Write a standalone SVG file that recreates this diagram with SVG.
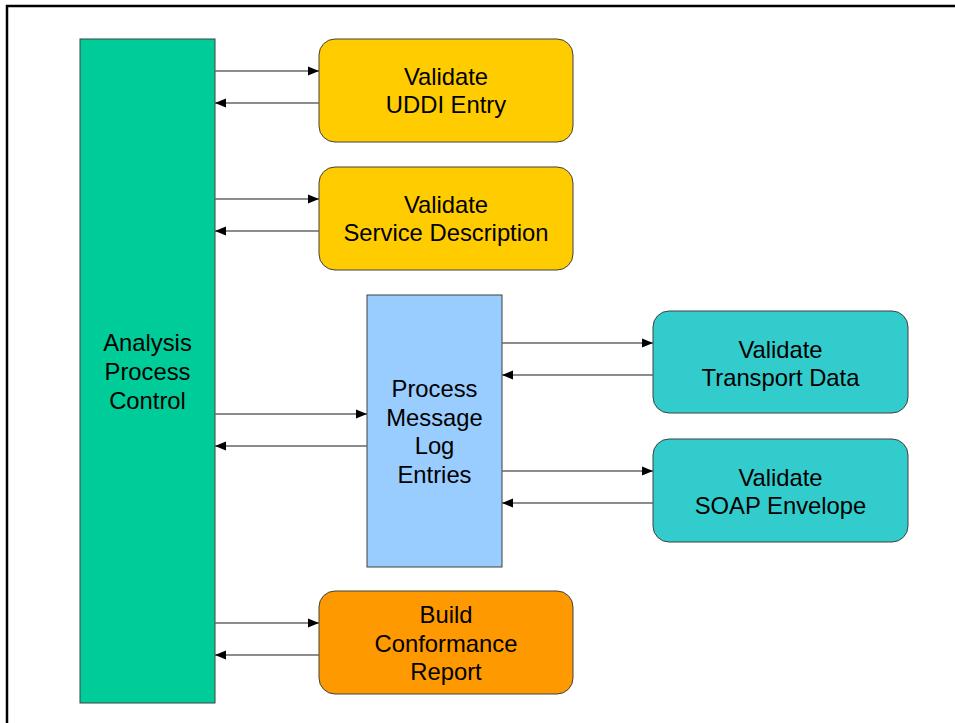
<svg xmlns="http://www.w3.org/2000/svg" width="955" height="723" viewBox="0 0 955 723">
<defs>
<marker id="ah" markerWidth="11" markerHeight="10" refX="11" refY="5" orient="auto" markerUnits="userSpaceOnUse">
<path d="M0,0.5 L11,5 L0,9.5 Z" fill="#000"/>
</marker>
</defs>
<style>
.box{stroke:#404040;stroke-width:1}
.t{font-family:"Liberation Sans",Arial,sans-serif;font-size:23.8px;fill:#000;text-anchor:middle}
.c{stroke:#666;stroke-width:1.5;fill:none;marker-end:url(#ah)}
</style>
<rect x="0" y="0" width="955" height="723" fill="#fff"/>
<path d="M7,723 V6 H960" fill="none" stroke="#000" stroke-width="2.5"/>
<g id="analysis">
<rect class="box" x="80" y="39" width="135" height="664" fill="#00CC99"/>
<text class="t" x="147.5" y="351">Analysis</text>
<text class="t" x="147.5" y="380">Process</text>
<text class="t" x="147.5" y="409">Control</text>
</g>
<g id="uddi">
<rect class="box" x="319" y="39" width="254" height="103" rx="16" fill="#FFCC00"/>
<text class="t" x="446" y="85">Validate</text>
<text class="t" x="446" y="113">UDDI Entry</text>
</g>
<g id="servdesc">
<rect class="box" x="319" y="167" width="254" height="103" rx="16" fill="#FFCC00"/>
<text class="t" x="446" y="213">Validate</text>
<text class="t" x="446" y="241">Service Description</text>
</g>
<g id="msglog">
<rect class="box" x="367" y="295" width="135" height="272" fill="#99CCFF"/>
<text class="t" x="434.5" y="397">Process</text>
<text class="t" x="434.5" y="425.5">Message</text>
<text class="t" x="434.5" y="454">Log</text>
<text class="t" x="434.5" y="482.5">Entries</text>
</g>
<g id="transport">
<rect class="box" x="653" y="311" width="255" height="102" rx="16" fill="#33CCCC"/>
<text class="t" x="780.5" y="358">Validate</text>
<text class="t" x="780.5" y="386">Transport Data</text>
</g>
<g id="soap">
<rect class="box" x="653" y="439" width="255" height="103" rx="16" fill="#33CCCC"/>
<text class="t" x="780.5" y="486">Validate</text>
<text class="t" x="780.5" y="514">SOAP Envelope</text>
</g>
<g id="report">
<rect class="box" x="319" y="591" width="254" height="103" rx="16" fill="#FF9900"/>
<text class="t" x="446" y="623">Build</text>
<text class="t" x="446" y="652">Conformance</text>
<text class="t" x="446" y="680">Report</text>
</g>
<g id="connectors">
<line class="c" x1="215" y1="71" x2="319" y2="71"/>
<line class="c" x1="319" y1="103" x2="215" y2="103"/>
<line class="c" x1="215" y1="199" x2="319" y2="199"/>
<line class="c" x1="319" y1="231" x2="215" y2="231"/>
<line class="c" x1="215" y1="414" x2="367" y2="414"/>
<line class="c" x1="367" y1="446" x2="215" y2="446"/>
<line class="c" x1="502" y1="343" x2="653" y2="343"/>
<line class="c" x1="653" y1="375" x2="502" y2="375"/>
<line class="c" x1="502" y1="471" x2="653" y2="471"/>
<line class="c" x1="653" y1="503" x2="502" y2="503"/>
<line class="c" x1="215" y1="623" x2="319" y2="623"/>
<line class="c" x1="319" y1="655" x2="215" y2="655"/>
</g>
</svg>
